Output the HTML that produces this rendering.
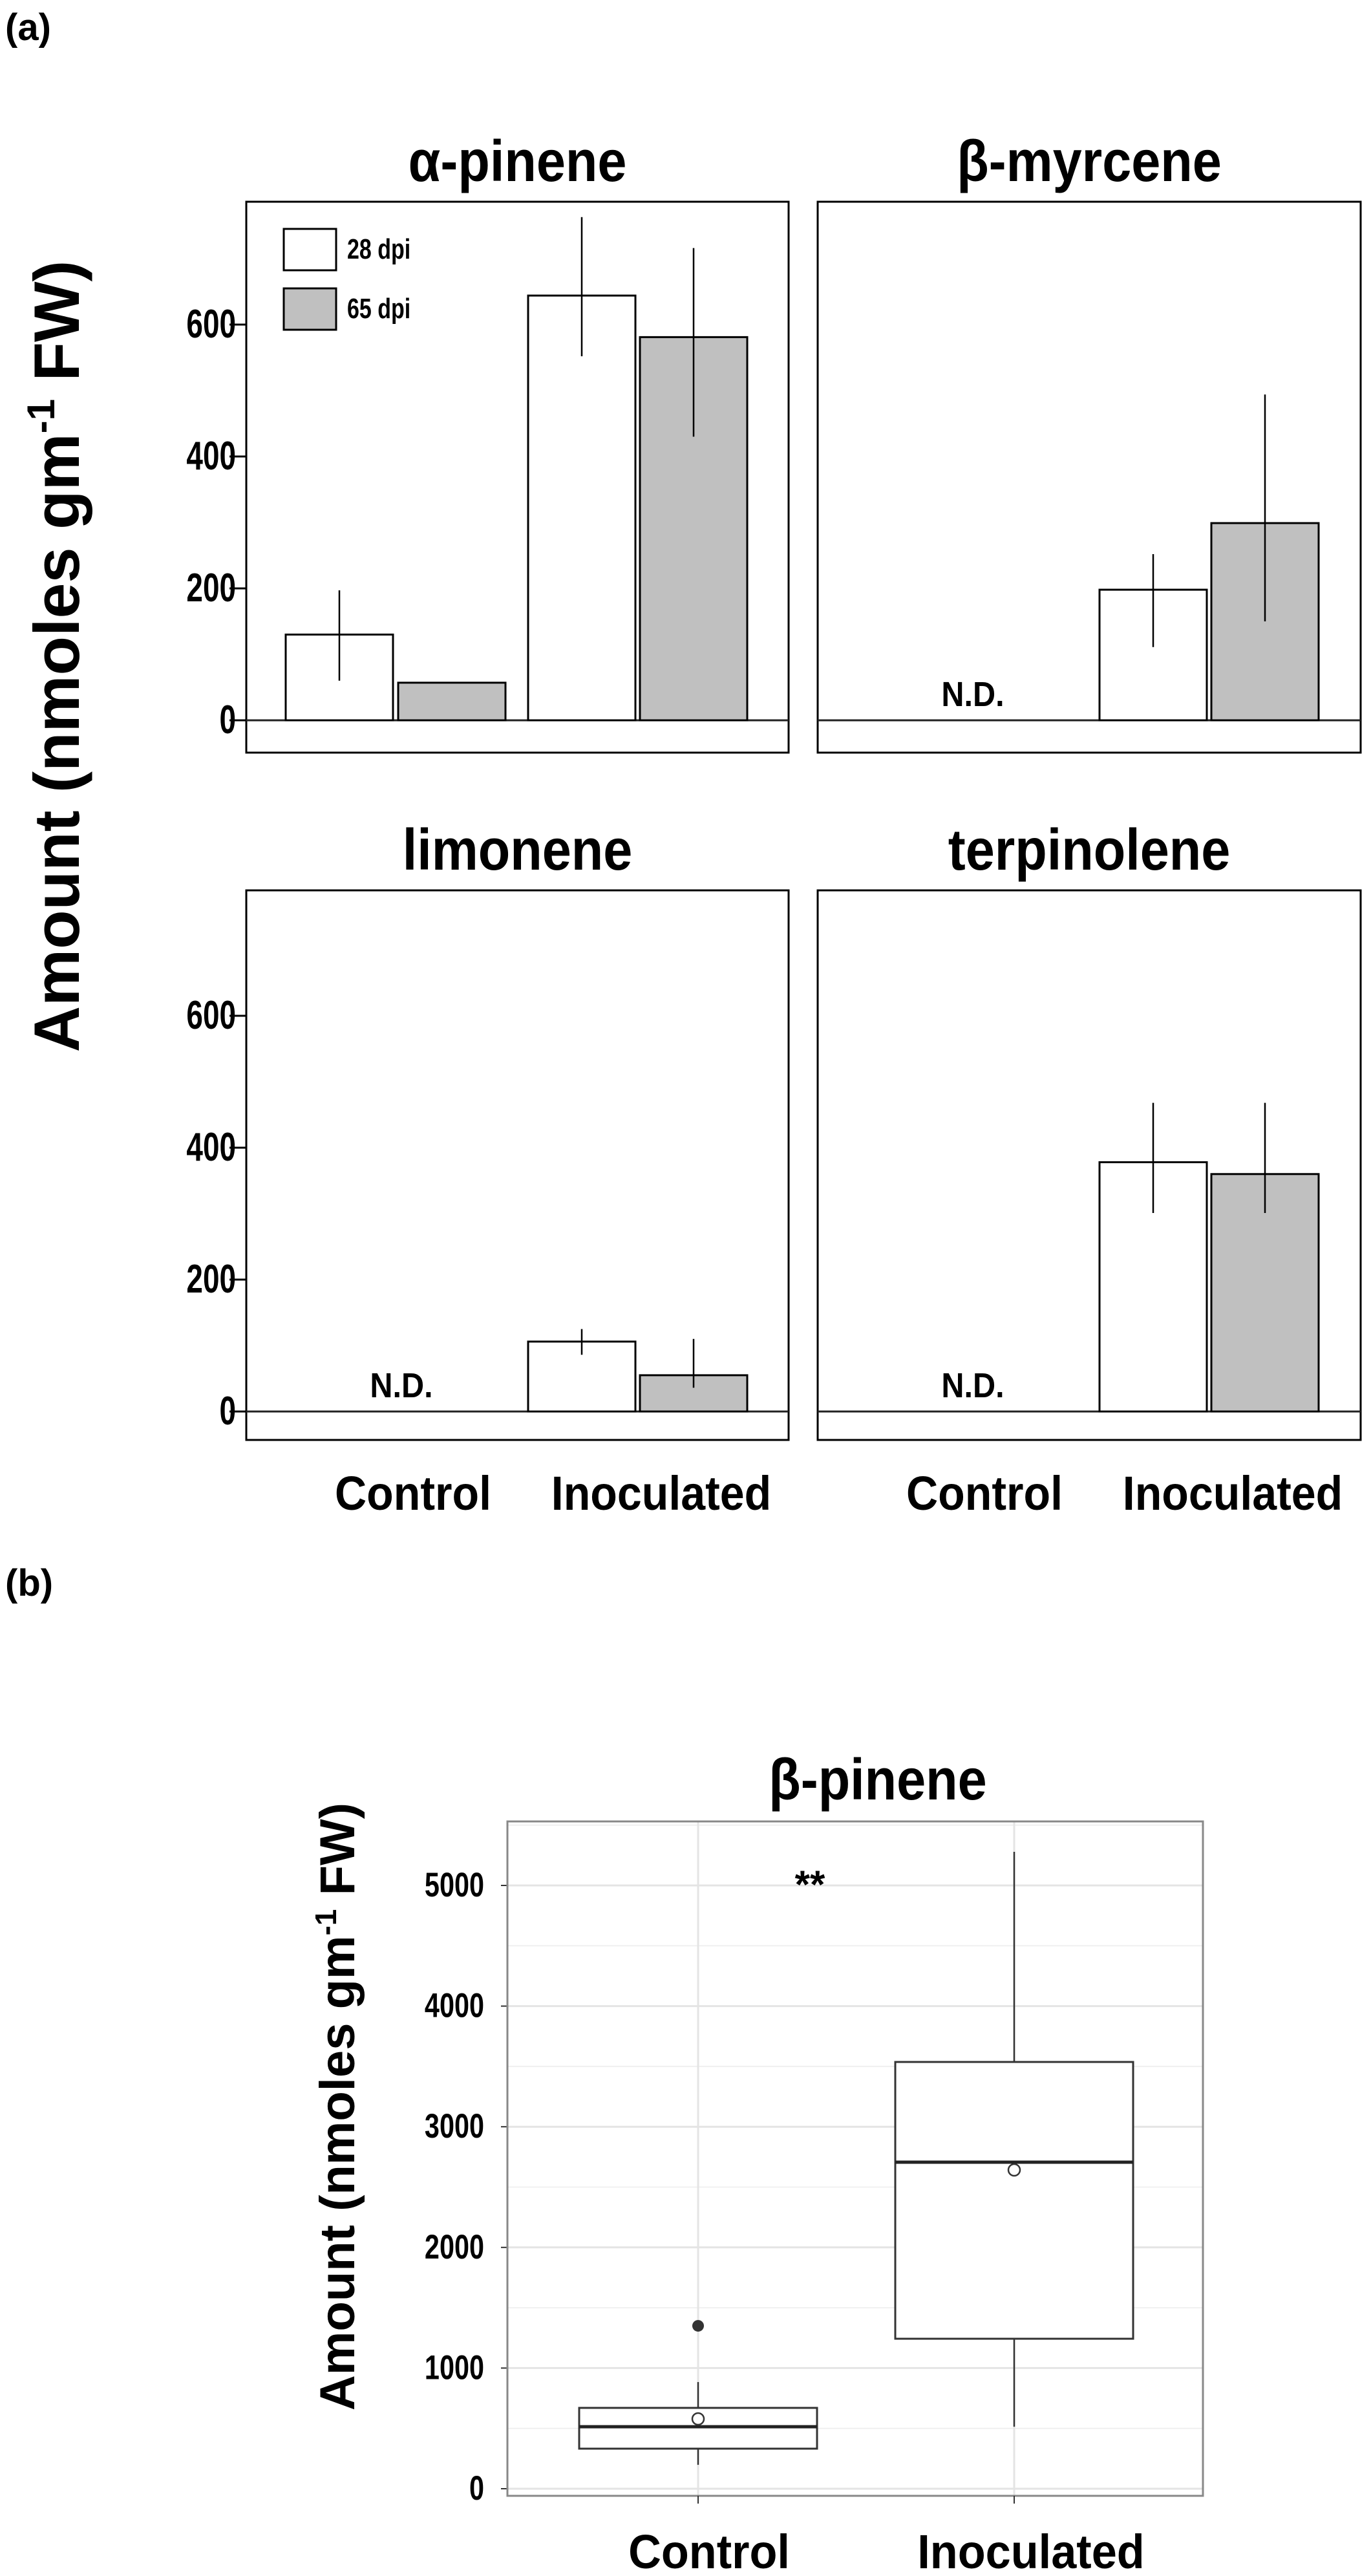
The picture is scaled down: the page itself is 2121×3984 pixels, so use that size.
<!DOCTYPE html>
<html><head><meta charset="utf-8"><style>
html,body{margin:0;padding:0;background:#fff;}
svg{display:block;font-family:"Liberation Sans",Arial,sans-serif;}
.ttl{font-weight:bold;font-size:90px;}
.xl{font-weight:bold;font-size:74px;}
.tk{font-weight:bold;font-size:54px;}
</style></head><body>
<svg id="chart" width="2121" height="3984" viewBox="0 0 2121 3984" xmlns="http://www.w3.org/2000/svg">
<text x="8" y="62" font-size="58" font-weight="bold">(a)</text>
<text x="8" y="2468" font-size="58" font-weight="bold">(b)</text>
<text transform="translate(122,1015) rotate(-90)" text-anchor="middle" font-size="99" font-weight="bold">Amount (nmoles gm<tspan font-size="60" dy="-38">-1</tspan><tspan dy="38"> FW)</tspan></text>
<g id="bars"></g>
<g id="boxplot"></g>
</svg>
<script>
const NS="http://www.w3.org/2000/svg";
const compounds=["α-pinene","β-myrcene","limonene","terpinolene"];
const mean28=[[130,644],[null,198],[null,106],[null,378]];
const mean65=[[57,581],[null,299],[null,55],[null,360]];
const errHi28=[[197,763],[null,252],[null,125],[null,468]];
const errLo28=[[60,552],[null,111],[null,86],[null,301]];
const errHi65=[[null,716],[null,494],[null,110],[null,468]];
const errLo65=[[null,430],[null,150],[null,36],[null,301]];
const yTicks=[0,200,400,600];
const groups=["Control","Inoculated"];

const bpCats=["Control","Inoculated"];
const bpQ1=[332,1243];
const bpMed=[514,2706];
const bpQ3=[670,3537];
const bpLo=[198,514];
const bpHi=[884,5279];
const bpMean=[579,2642];
const bpOutliers=[[1350],[]];
const bpTicks=[0,1000,2000,3000,4000,5000];

function mk(tag,attrs,parent,text){const e=document.createElementNS(NS,tag);for(const k in attrs)e.setAttribute(k,attrs[k]);if(text!==undefined)e.textContent=text;parent.appendChild(e);return e;}
function ctext(x,y,cls,txt,parent,sx){return mk('text',{transform:'translate('+x+','+y+') scale('+(sx||0.9)+',1)','text-anchor':'middle',class:cls},parent,txt);}

const g=document.getElementById('bars');
const panels=[{x:381,y:312,w:839,h:852,zero:1114},{x:1265,y:312,w:840,h:852,zero:1114},{x:381,y:1377,w:839,h:850,zero:2183},{x:1265,y:1377,w:840,h:850,zero:2183}];
const barOff=[[61,235],[436,609]];
const bw=166;
compounds.forEach((c,i)=>{
  const p=panels[i];
  const ys=v=>p.zero-v*1.02;
  const t=ctext(p.x+p.w/2,p.y-32,'ttl',c,g);
  
  
  const fr=mk('rect',{x:p.x,y:p.y,width:p.w,height:p.h,fill:'none',stroke:'#000','stroke-width':3},g);
  
  
  const zl=mk('line',{x1:p.x,x2:p.x+p.w,y1:ys(0),y2:ys(0),stroke:'#222','stroke-width':3},g);
  
  
  if(i%2===0){
    yTicks.forEach(v=>{
      const tl=mk('line',{x1:p.x-26,x2:p.x,y1:ys(v),y2:ys(v),stroke:'#000','stroke-width':3},g);
      
      
      const tt=mk('text',{transform:'translate('+(p.x-16)+','+(ys(v)+20)+') scale(0.85,1.15)','text-anchor':'end',class:'tk'},g,v);
      
      
    });
  }
  for(let gi=0;gi<2;gi++){
    const series=[[mean28,errHi28,errLo28,'#fff'],[mean65,errHi65,errLo65,'#c0c0c0']];
    series.forEach((s,si)=>{
      const v=s[0][i][gi]; if(v===null) return;
      const x=p.x+barOff[gi][si];
      const r=mk('rect',{x:x,y:ys(v),width:bw,height:ys(0)-ys(v),fill:s[3],stroke:'#000','stroke-width':3},g);
      
      
      const hi=s[1][i][gi],lo=s[2][i][gi];
      if(hi!==null){
        const e=mk('line',{x1:x+bw/2,x2:x+bw/2,y1:ys(hi),y2:ys(lo),stroke:'#000','stroke-width':2.5},g);
        
        
      }
    });
    if(mean28[i][gi]===null&&mean65[i][gi]===null){
      const nd=ctext(p.x+barOff[gi][1]+5,ys(0)-22,'tk',"N.D.",g,0.9);
      
      
    }
  }
  if(i>=2){
    groups.forEach((gn,gi)=>{
      const tx=ctext(p.x+(gi?642:258),p.y+p.h+108,'xl',gn,g,0.92);
      
      
    });
  }
});
[['#fff','28 dpi',354],['#c0c0c0','65 dpi',446]].forEach(l=>{
  const r=mk('rect',{x:439,y:l[2],width:81,height:64,fill:l[0],stroke:'#000','stroke-width':3},g);
  
  
  const t=mk('text',{transform:'translate(537,'+(l[2]+46)+') scale(0.85,1.1)','font-size':'40','font-weight':'bold'},g,l[1]);
  
  
});

const b=document.getElementById('boxplot');
const P={x:785,y:2817,w:1076,h:1043};
const by=v=>3849-v*0.1866;
const bx=[1080,1569];
for(let v=500;v<=5500;v+=1000){const l=mk('line',{x1:P.x,x2:P.x+P.w,y1:by(v),y2:by(v),stroke:'#f0f0f0','stroke-width':2},b);}
bpTicks.forEach(v=>{
  const l=mk('line',{x1:P.x,x2:P.x+P.w,y1:by(v),y2:by(v),stroke:'#e4e4e4','stroke-width':3},b);
  
  
  const tl=mk('line',{x1:P.x-10,x2:P.x,y1:by(v),y2:by(v),stroke:'#333','stroke-width':2},b);
  
  
  const t=mk('text',{transform:'translate(749,'+(by(v)+17)+') scale(0.9,1.15)','text-anchor':'end','font-size':'46','font-weight':'bold'},b,v);
  
  
});
bx.forEach(x=>{const l=mk('line',{x1:x,x2:x,y1:P.y,y2:P.y+P.h,stroke:'#e4e4e4','stroke-width':3},b);});
const fr=mk('rect',{x:P.x,y:P.y,width:P.w,height:P.h,fill:'none',stroke:'#888','stroke-width':3},b);


bpCats.forEach((c,i)=>{
  const x=bx[i],hw=184;
  const w1=mk('line',{x1:x,x2:x,y1:by(bpHi[i]),y2:by(bpQ3[i]),stroke:'#333','stroke-width':2.5},b);
  
  
  const w2=mk('line',{x1:x,x2:x,y1:by(bpQ1[i]),y2:by(bpLo[i]),stroke:'#333','stroke-width':2.5},b);
  
  
  const r=mk('rect',{x:x-hw,y:by(bpQ3[i]),width:hw*2,height:by(bpQ1[i])-by(bpQ3[i]),fill:'#fff',stroke:'#333','stroke-width':3},b);
  
  
  const m=mk('line',{x1:x-hw,x2:x+hw,y1:by(bpMed[i]),y2:by(bpMed[i]),stroke:'#222','stroke-width':5},b);
  
  
  const mc=mk('circle',{cx:x,cy:by(bpMean[i]),r:9,fill:'#fff',stroke:'#333','stroke-width':2.5},b);
  
  
  bpOutliers[i].forEach(o=>{const oc=mk('circle',{cx:x,cy:by(o),r:9,fill:'#333'},b);});
  const tk=mk('line',{x1:x,x2:x,y1:P.y+P.h,y2:P.y+P.h+12,stroke:'#333','stroke-width':2},b);
  
  
  const t=ctext([1097,1595][i],3972,'xl',c,b,0.95);
  t.setAttribute('font-size','84');
  
  
});
const st=mk('text',{x:1253,y:2935,'text-anchor':'middle','font-size':'60','font-weight':'bold'},b,'**');


const bt=ctext(1358,2783,'ttl','β-pinene',b);


const yt=mk('text',{transform:'translate(548,3258) rotate(-90)','text-anchor':'middle','font-size':'76','font-weight':'bold'},b);


yt.innerHTML='Amount (nmoles gm<tspan font-size="46" dy="-28">-1</tspan><tspan dy="28"> FW)</tspan>';
</script>
</body></html>
